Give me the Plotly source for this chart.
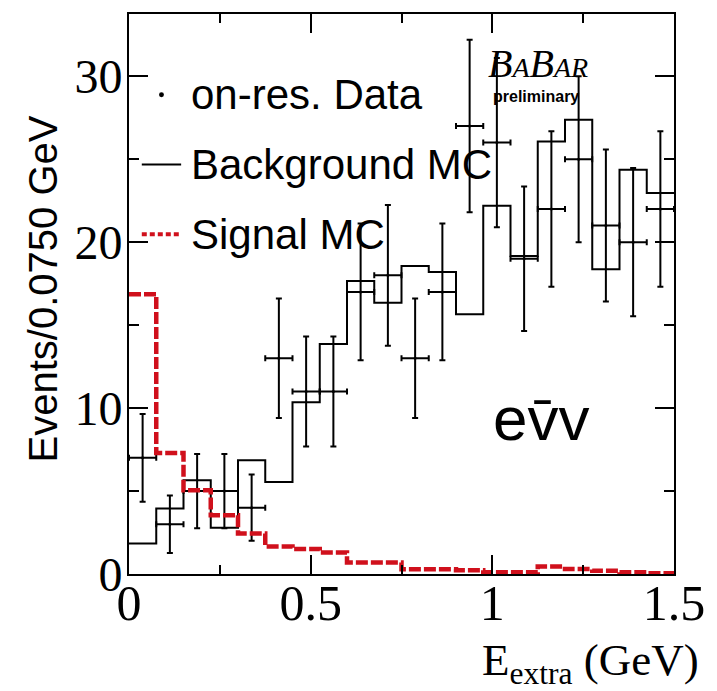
import numpy as np
import plotly.graph_objects as go

# ---------------- data ----------------
bin_edges = [round(0.075 * i, 4) for i in range(21)]
data_counts = [7, 3, 5, 5, 4, 13, 11, 11, 17, 18, 13, 17, 27, 26, 19, 22, 25, 21, 20, 22]
background_mc = [1.84, 3.95, 5.65, 2.78, 6.85, 5.55, 10.35, 13.86, 17.66, 16.35,
                 18.56, 18.2, 15.66, 22.2, 19.16, 26.07, 27.37, 18.36, 24.37, 22.96]
signal_mc = [16.86, 7.29, 5.05, 3.54, 2.44, 1.65, 1.5, 1.3, 0.7, 0.7,
             0.28, 0.28, 0.22, 0.1, 0.1, 0.45, 0.3, 0.2, 0.1, 0.05]
x_ticks = [0, 0.5, 1, 1.5]
x_ticklabels = ["0", "0.5", "1", "1.5"]
y_ticks = [0, 10, 20, 30]
y_ticklabels = ["0", "10", "20", "30"]

centers = [(bin_edges[i] + bin_edges[i + 1]) / 2 for i in range(20)]
halfw = [(bin_edges[i + 1] - bin_edges[i]) / 2 for i in range(20)]
errs = [float(np.sqrt(n)) for n in data_counts]

# plot area in pixels
W, H = 717, 691
L, R, T, B = 129, 34, 12, 117
PW, PH = W - L - R, H - T - B


def px(xp):
    return (xp - L) / PW


def py(yp):
    return (H - B - yp) / PH


fig = go.Figure()

fig.add_trace(go.Scatter(
    x=bin_edges, y=background_mc + [background_mc[-1]],
    mode="lines", line=dict(shape="hv", color="black", width=2),
    showlegend=False, hoverinfo="skip"))

fig.add_trace(go.Scatter(
    x=centers, y=data_counts, mode="markers",
    marker=dict(color="black", size=3),
    error_x=dict(type="data", array=halfw, symmetric=True, color="black", thickness=2, width=3),
    error_y=dict(type="data", array=errs, symmetric=True, color="black", thickness=2, width=3),
    showlegend=False))

fig.add_trace(go.Scatter(
    x=bin_edges, y=signal_mc + [signal_mc[-1]],
    mode="lines", line=dict(shape="hv", color="#d0101c", width=4.5, dash="12px,3px"),
    showlegend=False, hoverinfo="skip"))

sans = "Liberation Sans"
serif = "Liberation Serif"

axis_common = dict(
    showline=True, linecolor="black", linewidth=2, mirror="ticks",
    ticks="inside", ticklen=19, tickwidth=2, tickcolor="black",
    showgrid=False, zeroline=False,
)

fig.update_xaxes(
    range=[0, 1.5], tickvals=x_ticks, ticktext=x_ticklabels,
    tickfont=dict(family=serif, size=50, color="black"),
    ticklabelstandoff=-16,
    minor=dict(dtick=0.25, ticklen=9, tickwidth=2, ticks="inside", tickcolor="black"),
    **axis_common)
fig.update_yaxes(
    range=[0, 33.75], tickvals=y_ticks, ticktext=y_ticklabels,
    tickfont=dict(family=serif, size=48, color="black"),
    ticklabelstandoff=-5,
    minor=dict(dtick=5, ticklen=10, tickwidth=2, ticks="inside", tickcolor="black"),
    **axis_common)

annotations = [
    # legend texts
    dict(x=px(190), y=py(93), text="on-res. Data"),
    dict(x=px(190), y=py(163), text="Background MC"),
    dict(x=px(190), y=py(233), text="Signal MC"),
]
ann = []
for a in annotations:
    a.update(xref="paper", yref="paper", xanchor="left", yanchor="middle", showarrow=False,
             font=dict(family=sans, size=42, color="black"))
    ann.append(a)

ann.append(dict(x=px(545), y=py(62), xref="paper", yref="paper", showarrow=False,
                xanchor="center", yanchor="middle",
                text="<i>B<span style='font-size:28px'>A</span>B<span style='font-size:28px'>AR</span></i>",
                font=dict(family=serif, size=40, color="black")))
ann.append(dict(x=px(543), y=py(95), xref="paper", yref="paper", showarrow=False,
                xanchor="center", yanchor="middle", text="<b>preliminary</b>",
                font=dict(family=sans, size=16, color="black")))
ann.append(dict(x=px(548), y=py(418), xref="paper", yref="paper", showarrow=False,
                xanchor="center", yanchor="middle", text="ev\u0304v",
                font=dict(family=sans, size=62, color="black")))
ann.append(dict(x=px(42), y=py(288), xref="paper", yref="paper", showarrow=False,
                xanchor="center", yanchor="middle", textangle=-90,
                text="Events/0.0750 GeV", font=dict(family=sans, size=40, color="black")))
ann.append(dict(x=px(710), y=py(663), xref="paper", yref="paper", showarrow=False,
                xanchor="right", yanchor="middle",
                text="E<sub>extra</sub> (GeV)", font=dict(family=serif, size=45, color="black")))

shapes = [
    dict(type="circle", xref="paper", yref="paper",
         x0=px(159.5), x1=px(164.5), y0=py(95.5), y1=py(90.5),
         fillcolor="black", line=dict(color="black", width=0)),
    dict(type="line", xref="paper", yref="paper",
         x0=px(142), x1=px(182), y0=py(163), y1=py(163),
         line=dict(color="black", width=2)),
    dict(type="line", xref="paper", yref="paper",
         x0=px(142), x1=px(180), y0=py(233), y1=py(233),
         line=dict(color="#d0101c", width=4, dash="5px,3px")),
]

fig.update_layout(
    width=W, height=H, margin=dict(l=L, r=R, t=T, b=B),
    paper_bgcolor="white", plot_bgcolor="white",
    annotations=ann, shapes=shapes, showlegend=False,
)

fig.write_html("out.html")
